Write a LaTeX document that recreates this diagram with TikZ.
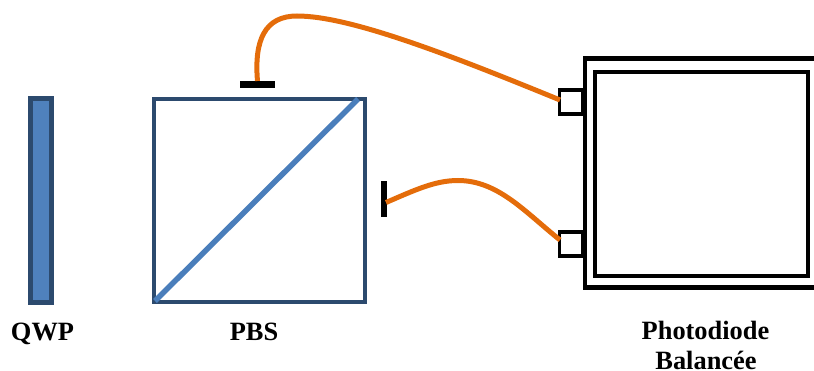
\documentclass[tikz,border=0pt]{standalone}
\usepackage{fontspec}
\setmainfont{Liberation Serif}
\tikzset{
  x=1pt,y=-1pt,
  box/.style={draw,inner sep=0pt,outer sep=0pt},
  plate/.style={box,draw=navyline,fill=plateblue,line width=5pt,minimum width=21.5pt,minimum height=204pt},
  cube/.style={box,draw=navyline,line width=4pt,minimum width=211pt,minimum height=203pt},
  splitter/.style={draw=diagblue,line width=5.5pt},
  bar/.style={box,fill=black,draw=none},
  pdbox/.style={box,draw=black,line width=4pt},
  port/.style={box,draw=black,line width=3.5pt,fill=white,minimum width=23pt,minimum height=24pt},
  fibre/.style={draw=fibreorange,line width=5pt},
  lab/.style={font=\fontsize{26.4pt}{31pt}\selectfont\bfseries,anchor=base,inner sep=0pt}
}
\definecolor{navyline}{HTML}{2C4A6E}
\definecolor{plateblue}{HTML}{4F81BD}
\definecolor{diagblue}{HTML}{4A7EBB}
\definecolor{fibreorange}{HTML}{E46C0A}
\begin{document}
\begin{tikzpicture}
\clip (0,0) rectangle (814,371);
\node[plate] (qwp) at (41,200.75) {};
\node[cube] (pbs) at (259.5,200.5) {};
\coordinate (sa) at (155,301);
\coordinate (sb) at (358,99);
\draw[splitter] (sa) -- (sb);
\node[bar,minimum width=35pt,minimum height=7pt] (bartop) at (257.5,84.5) {};
\node[bar,minimum width=6pt,minimum height=36pt] (barright) at (384,199) {};
\node[port] (portup) at (571,102) {};
\node[port] (portdown) at (571,244) {};
\node[pdbox,line width=4.5pt,fill=white,minimum width=260pt,minimum height=229pt] (pdouter) at (715,173) {};
\node[pdbox,minimum width=213pt,minimum height=204pt] (pdinner) at (701.5,174.5) {};
\coordinate (endup) at (560,100);
\coordinate (enddown) at (560,240);
\coordinate (startright) at (386,202.5);
\draw[fibre] (bartop.north) .. controls (254,40) and (265,16) .. (297,16) .. controls (350,16) and (450,55) .. (endup);
\draw[fibre] (startright) .. controls (415,190) and (435,180.5) .. (458,180.5) .. controls (498,180.5) and (525,212) .. (enddown);
\node[lab] (lq) at (42.5,341) {QWP};
\node[lab] (lp) at (254,341) {PBS};
\node[lab] (lpd) at (705.5,339) {Photodiode};
\node[lab] (lb) at (706,370) {Balancée};
\end{tikzpicture}
\end{document}
